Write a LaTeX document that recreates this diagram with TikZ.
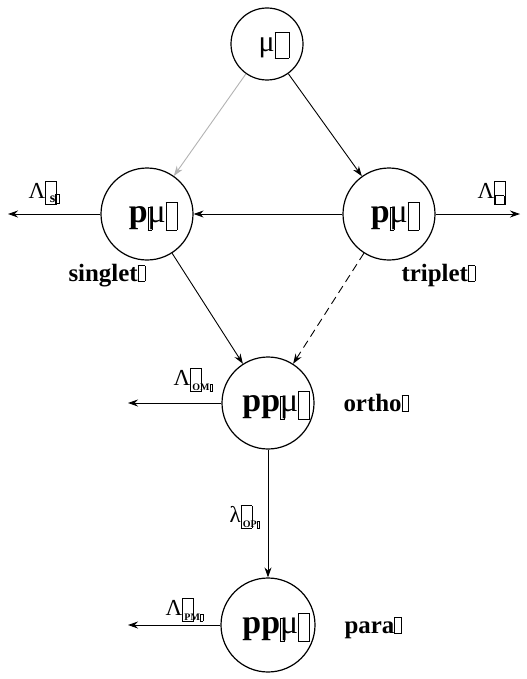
\documentclass[tikz,border=0pt]{standalone}
\usepackage{fontspec}
\setmainfont{Liberation Serif}
\usetikzlibrary{arrows.meta}
\newcommand{\bx}[2]{{\setlength{\fboxsep}{0pt}\setlength{\fboxrule}{0.6pt}\fbox{\rule{0pt}{#2}\rule{#1}{0pt}}}}
\newcommand{\sbx}[2]{\raisebox{-0.2em}{\bx{#1}{#2}}}
\newcommand{\subfnt}{\fontsize{10}{12}\selectfont\bfseries}
\tikzset{
  state/.style={circle,draw,line width=1.2bp,inner sep=0pt},
  big/.style={font=\fontsize{34}{38}\selectfont},
  lab/.style={font=\fontsize{25}{28}\selectfont\bfseries},
  rate/.style={font=\fontsize{23}{26}\selectfont},
  arr/.style={line width=0.9bp,-{Stealth[length=10bp,width=7bp]}},
}
\begin{document}
\begin{tikzpicture}[x=1bp,y=-1bp]
\useasboundingbox (0,0) rectangle (527,679);
\node[state,minimum size=72bp] (mu) at (267,44) {};
\node[font=\fontsize{30}{34}\selectfont,inner sep=0pt] (mut) at (274,45) {μ\sbx{0.45em}{0.85em}};
\node[state,minimum size=92bp] (pl) at (147,214) {};
\node[big,inner sep=0pt] (plt) at (153,216) {\textbf{p}\sbx{0.1em}{0.65em}\kern-0.14em μ\sbx{0.3em}{0.8em}};
\node[state,minimum size=92bp] (pr) at (389,214) {};
\node[big,inner sep=0pt] (prt) at (395,216) {\textbf{p}\sbx{0.1em}{0.65em}\kern-0.14em μ\sbx{0.3em}{0.8em}};
\node[state,minimum size=92bp] (po) at (268,403) {};
\node[big,inner sep=0pt] (pot) at (276,405) {\textbf{pp}\sbx{0.1em}{0.65em}\kern-0.14em μ\sbx{0.3em}{0.8em}};
\node[state,minimum size=94bp] (pp) at (268,625) {};
\node[big,inner sep=0pt] (ppt) at (276,627) {\textbf{pp}\sbx{0.1em}{0.65em}\kern-0.14em μ\sbx{0.3em}{0.8em}};
\coordinate (sl) at (8,214);
\coordinate (tr) at (520,214);
\coordinate (ol) at (128,403);
\coordinate (pa) at (128,625);
\draw[arr,draw=gray!60] (mu) -- (pl);
\draw[arr] (mu) -- (pr);
\draw[arr] (pr) -- (pl);
\draw[arr] (pl) -- (sl);
\draw[arr] (pr) -- (tr);
\draw[arr] (pl) -- (po);
\draw[arr,dash pattern=on 8bp off 5bp] (pr) -- (po);
\draw[arr] (po) -- (ol);
\draw[arr] (po) -- (pp);
\draw[arr] (pp) -- (pa);
\node[rate,anchor=base west] (ls) at (25,198) {Λ\raisebox{-0.25em}{\bx{0.45em}{0.95em}}\kern-0.3em\raisebox{-0.2em}{\fontsize{14}{16}\selectfont\bfseries s\bx{0.25em}{0.55em}}};
\node[lab,anchor=base west] (sg) at (65,281) {singlet\bx{0.25em}{0.6em}};
\node[rate,anchor=base west] (lt) at (474,198) {Λ\raisebox{-0.25em}{\bx{0.45em}{0.95em}}\kern-0.45em\raisebox{-0.25em}{\fontsize{14}{16}\selectfont\bx{0.55em}{0.55em}}};
\node[lab,anchor=base west] (tp) at (398,281) {triplet\bx{0.25em}{0.6em}};
\node[rate,anchor=base west] (lom) at (170,385) {Λ\raisebox{-0.25em}{\bx{0.45em}{0.95em}}\kern-0.4em\raisebox{-0.25em}{\subfnt OM\bx{0.2em}{0.6em}}};
\node[lab,anchor=base west] (ot) at (340,411) {ortho\bx{0.25em}{0.6em}};
\node[rate,anchor=base west] (lop) at (226,522) {λ\raisebox{-0.25em}{\bx{0.45em}{0.95em}}\kern-0.4em\raisebox{-0.25em}{\subfnt OP\bx{0.2em}{0.6em}}};
\node[rate,anchor=base west] (lpm) at (162,615) {Λ\raisebox{-0.25em}{\bx{0.45em}{0.95em}}\kern-0.4em\raisebox{-0.25em}{\subfnt PM\bx{0.2em}{0.6em}}};
\node[lab,anchor=base west] (pt) at (341,633) {para\bx{0.25em}{0.6em}};
\end{tikzpicture}
\end{document}
